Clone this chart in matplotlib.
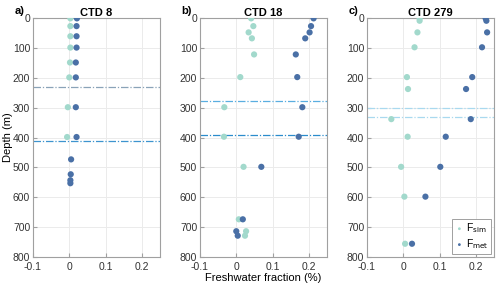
import numpy as np
import matplotlib.pyplot as plt

plt.rcParams['font.family'] = ['Liberation Sans', 'DejaVu Sans']
plt.rcParams['font.size'] = 8

col_sim = '#a2d9cc'
col_met = '#4a70a6'

# CTD 8
a_depth_sim = [0, 26, 60, 98, 148, 198, 298, 398]
a_sim = [0.003, 0.003, 0.003, 0.003, 0.002, 0.0, -0.004, -0.006]
a_depth_met = [0, 26, 60, 98, 148, 198, 298, 398, 473, 523, 543, 553]
a_met = [0.021, 0.02, 0.02, 0.02, 0.018, 0.018, 0.018, 0.02, 0.005, 0.004, 0.003, 0.003]
a_lines = [231, 413]

# CTD 18
b_depth = [0, 26, 47, 67, 121, 197, 298, 397, 498, 674, 714, 729]
b_sim = [0.041, 0.047, 0.034, 0.043, 0.049, 0.011, -0.033, -0.034, 0.02, 0.007, 0.027, 0.024]
b_met = [0.213, 0.206, 0.202, 0.19, 0.164, 0.168, 0.182, 0.172, 0.069, 0.018, 0.0, 0.004]
b_lines = [278, 391]

# CTD 279
c_depth = [0, 8, 47, 97, 197, 237, 338, 397, 498, 598, 756]
c_sim = [0.045, 0.045, 0.039, 0.031, 0.01, 0.013, -0.033, 0.012, -0.006, 0.003, 0.005]
c_met = [0.227, 0.229, 0.231, 0.217, 0.19, 0.173, 0.186, 0.117, 0.102, 0.061, 0.024]
c_lines = [300, 332]

panels = [
    ('a)', 'CTD 8', a_depth_sim, a_sim, a_depth_met, a_met, a_lines, ['#8aa3b8', '#3d94cf']),
    ('b)', 'CTD 18', b_depth, b_sim, b_depth, b_met, b_lines, ['#5aaee0', '#2b8ccc']),
    ('c)', 'CTD 279', c_depth, c_sim, c_depth, c_met, c_lines, ['#a9d9ef', '#a9d9ef']),
]

fig = plt.figure(figsize=(5.0, 2.87), dpi=100)
lefts = [0.066, 0.400, 0.734]

for i, (lab, title, ds, xs, dm, xm, lines, lcols) in enumerate(panels):
    ax = fig.add_axes([lefts[i], 0.105, 0.254, 0.831])
    ax.set_xlim(-0.1, 0.25)
    ax.set_ylim(800, 0)
    ax.set_xticks([-0.1, 0, 0.1, 0.2])
    ax.set_xticklabels(['-0.1', '0', '0.1', '0.2'])
    ax.set_yticks(np.arange(0, 801, 100))
    ax.grid(True, color='#ebebeb', linewidth=0.7)
    ax.set_axisbelow(True)
    for s in ax.spines.values():
        s.set_color('#a0a0a0')
        s.set_linewidth(0.8)
    ax.tick_params(direction='in', length=3, color='#a0a0a0', labelcolor='#333333',
                   labelsize=7.5, top=False, right=False)
    ax.tick_params(axis='x', pad=3.5)
    ax.tick_params(axis='y', pad=2)
    for d, lc in zip(lines, lcols):
        ax.axhline(d, color=lc, linestyle='-.', linewidth=0.9, dashes=(6, 1.5, 1, 1.5))
    ax.scatter(xs, ds, s=20, color=col_sim, edgecolors='none', zorder=3, label=r'F$_{\mathrm{sim}}$')
    ax.scatter(xm, dm, s=20, color=col_met, edgecolors='none', zorder=3, label=r'F$_{\mathrm{met}}$')
    ax.set_title(title, fontsize=8, fontweight='bold', pad=2)
    fig.text(lefts[i] - 0.037, 0.952, lab, fontsize=8, fontweight='bold')
    if i == 0:
        ax.set_ylabel('Depth (m)', fontsize=8)
        ax.yaxis.set_label_coords(-0.16, 0.5)
    if i == 1:
        ax.set_xlabel('Freshwater fraction (%)', fontsize=8, labelpad=1)
    if i == 2:
        leg = ax.legend(loc='lower right', fontsize=7.5, markerscale=0.45, handletextpad=0.1,
                        borderpad=0.25, labelspacing=0.2, handlelength=1.0,
                        fancybox=False, framealpha=1, borderaxespad=0.3)
        leg.get_frame().set_edgecolor('#a0a0a0')
        leg.get_frame().set_linewidth(0.7)

fig.savefig('out.png', dpi=100)
